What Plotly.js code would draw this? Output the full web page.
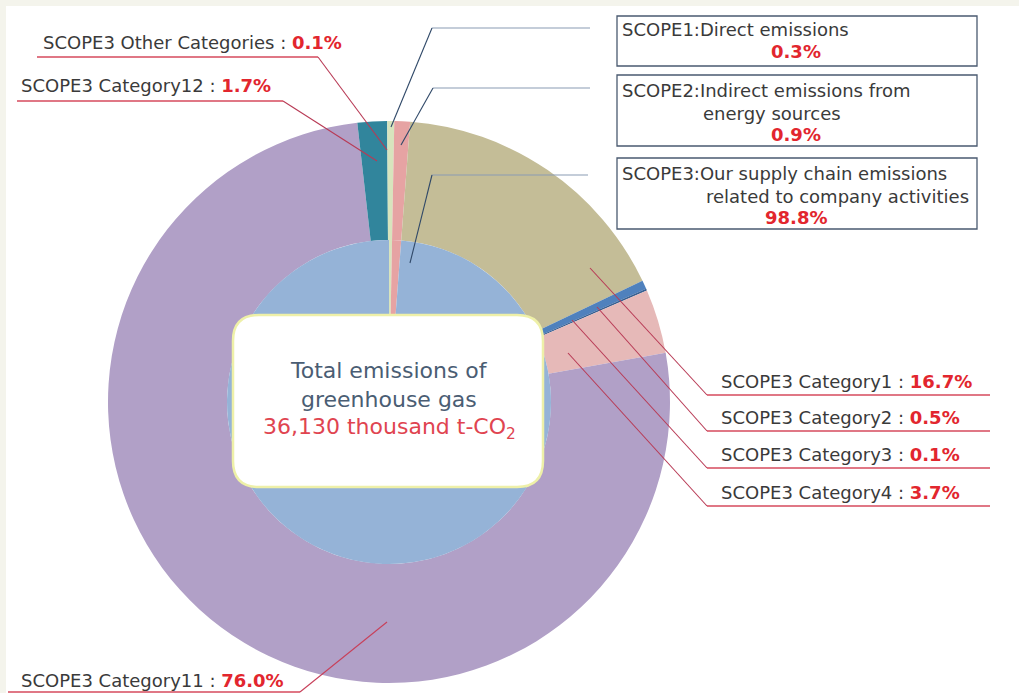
<!DOCTYPE html>
<html>
<head>
<meta charset="utf-8">
<script src="https://cdn.plot.ly/plotly-3.0.1.min.js"></script>
<style>html,body{margin:0;padding:0;background:#fff;}#chart{width:1019px;height:693px;}</style>
</head>
<body>
<div id="chart"></div>
<script>
// ---- data ----
const innerLabels = ['SCOPE1', 'SCOPE2', 'SCOPE3'];
const innerValues = [0.3, 0.9, 98.8];
const innerColors = ['#d7e4bd', '#e6a3a3', '#95b3d7'];

const outerLabels = ['SCOPE1', 'SCOPE2', 'SCOPE3 Category1', 'SCOPE3 Category2', 'SCOPE3 Category3',
  'SCOPE3 Category4', 'SCOPE3 Category11', 'SCOPE3 Category12', 'SCOPE3 Other Categories'];
const outerValues = [0.3, 0.9, 16.7, 0.5, 0.1, 3.7, 76.0, 1.7, 0.1];
const outerColors = ['#d7e4bd', '#e6a3a3', '#c4bd97', '#4f81bd', '#376092', '#e6b9b8', '#b1a0c7', '#31859c', '#d7e4bd'];

const totalText = '36,130 thousand t-CO<sub>2</sub>';

// ---- helpers ----
const W = 1019, H = 693;
const X = p => p / W;
const Y = p => 1 - p / H;
const RED = '#e2262e';
const pct = v => '<b><span style="color:' + RED + '">' + v.toFixed(1) + '%</span></b>';
const FONT = 'DejaVu Sans, Verdana, sans-serif';
const FS = 18;

const traces = [
  {
    type: 'pie', labels: outerLabels, values: outerValues, sort: false, direction: 'clockwise', rotation: 0,
    hole: 162 / 281, textinfo: 'none', hoverinfo: 'label+value', showlegend: false,
    marker: {colors: outerColors, line: {width: 0}},
    domain: {x: [X(108), X(670)], y: [Y(683), Y(121)]}
  },
  {
    type: 'pie', labels: innerLabels, values: innerValues, sort: false, direction: 'clockwise', rotation: 0,
    textinfo: 'none', hoverinfo: 'label+value', showlegend: false,
    marker: {colors: innerColors, line: {width: 0}},
    domain: {x: [X(227), X(551)], y: [Y(564), Y(240)]}
  }
];

const shapes = [];
const annotations = [];

// background frame
shapes.push({type: 'rect', xref: 'paper', yref: 'paper', x0: X(6), x1: 1, y0: 0, y1: Y(6),
  fillcolor: '#ffffff', line: {width: 0}, layer: 'below'});

function seg(x0, y0, x1, y1, color, width) {
  shapes.push({type: 'line', xref: 'paper', yref: 'paper', x0: X(x0), y0: Y(y0), x1: X(x1), y1: Y(y1),
    line: {color: color, width: width || 1.2}});
}
function txt(x, y, text, anchor, size, color) {
  annotations.push({xref: 'paper', yref: 'paper', x: X(x), y: Y(y), text: text, showarrow: false,
    xanchor: anchor || 'left', yanchor: 'middle', font: {family: FONT, size: size || FS, color: color || '#3a3a3a'}});
}

// ---- left labels ----
const LINE_RED = '#d64a5c';
seg(37, 57, 318, 57, LINE_RED, 1.5);
seg(318, 57, 387, 150, '#b83a55', 1.1);
txt(41, 43, 'SCOPE3 Other Categories : ' + pct(outerValues[8]));

seg(17, 101, 283, 101, LINE_RED, 1.5);
seg(283, 101, 377, 161, '#b83a55', 1.1);
txt(19, 86, 'SCOPE3 Category12 : ' + pct(outerValues[7]));

seg(8, 692, 300, 692, LINE_RED, 1.5);
seg(300, 692, 387, 622, '#c8405a', 1.1);
txt(19, 680, 'SCOPE3 Category11 : ' + pct(outerValues[6]));

// ---- right labels ----
const rightRows = [
  {i: 2, ty: 382, uy: 395, sx: 590, sy: 268},
  {i: 3, ty: 417, uy: 431, sx: 597, sy: 307},
  {i: 4, ty: 454, uy: 468, sx: 572, sy: 320},
  {i: 5, ty: 492, uy: 506, sx: 568, sy: 353}
];
rightRows.forEach(r => {
  seg(707, r.uy, 990, r.uy, LINE_RED, 1.5);
  seg(r.sx, r.sy, 707, r.uy, '#b83a55', 1.1);
  txt(719, r.ty, outerLabels[r.i] + ' : ' + pct(outerValues[r.i]));
});

// ---- scope boxes ----
const NAVY = '#2f4868', GREYBLUE = '#8a9bb3';
function box(x0, y0, x1, y1) {
  shapes.push({type: 'rect', xref: 'paper', yref: 'paper', x0: X(x0), x1: X(x1), y0: Y(y1), y1: Y(y0),
    fillcolor: '#ffffff', line: {color: '#4a5a70', width: 1.3}});
}
box(617, 16, 977, 66);
seg(432, 28, 590, 28, GREYBLUE, 1.2);
seg(432, 28, 391, 127, NAVY, 1.1);
txt(620, 30, 'SCOPE1:Direct emissions');
txt(796, 52, pct(innerValues[0]), 'center');

box(617, 75, 977, 146);
seg(433, 88, 590, 88, GREYBLUE, 1.2);
seg(433, 88, 401, 145, NAVY, 1.1);
txt(620, 90, 'SCOPE2:Indirect emissions from');
txt(772, 113, 'energy sources', 'center');
txt(796, 134, pct(innerValues[1]), 'center');

box(617, 158, 977, 229);
seg(432, 175, 588, 175, GREYBLUE, 1.2);
seg(432, 175, 410, 263, NAVY, 1.1);
txt(620, 173, 'SCOPE3:Our supply chain emissions');
txt(837, 196, 'related to company activities', 'center');
txt(796, 217, pct(innerValues[2]), 'center');

// ---- center box ----
(function () {
  const x0 = X(233), x1 = X(543), y0 = Y(315), y1 = Y(487);
  const rx = 26 / W, ry = 26 / H;
  const p = 'M ' + (x0 + rx) + ' ' + y0 + ' L ' + (x1 - rx) + ' ' + y0 + ' Q ' + x1 + ' ' + y0 + ' ' + x1 + ' ' + (y0 - ry) +
    ' L ' + x1 + ' ' + (y1 + ry) + ' Q ' + x1 + ' ' + y1 + ' ' + (x1 - rx) + ' ' + y1 +
    ' L ' + (x0 + rx) + ' ' + y1 + ' Q ' + x0 + ' ' + y1 + ' ' + x0 + ' ' + (y1 + ry) +
    ' L ' + x0 + ' ' + (y0 - ry) + ' Q ' + x0 + ' ' + y0 + ' ' + (x0 + rx) + ' ' + y0 + ' Z';
  shapes.push({type: 'path', xref: 'paper', yref: 'paper', path: p, fillcolor: '#ffffff',
    line: {color: '#eef0a8', width: 2.5}});
})();
txt(389, 370, 'Total emissions of', 'center', 22, '#4a5d73');
txt(389, 399, 'greenhouse gas', 'center', 22, '#4a5d73');
txt(389, 428, totalText, 'center', 22, '#e04450');

const layout = {
  width: W, height: H,
  margin: {l: 0, r: 0, t: 0, b: 0, pad: 0},
  paper_bgcolor: '#f4f4ec',
  plot_bgcolor: '#ffffff',
  showlegend: false,
  shapes: shapes,
  annotations: annotations,
  font: {family: FONT}
};

Plotly.newPlot('chart', traces, layout, {displayModeBar: false, staticPlot: true});
</script>
</body>
</html>
